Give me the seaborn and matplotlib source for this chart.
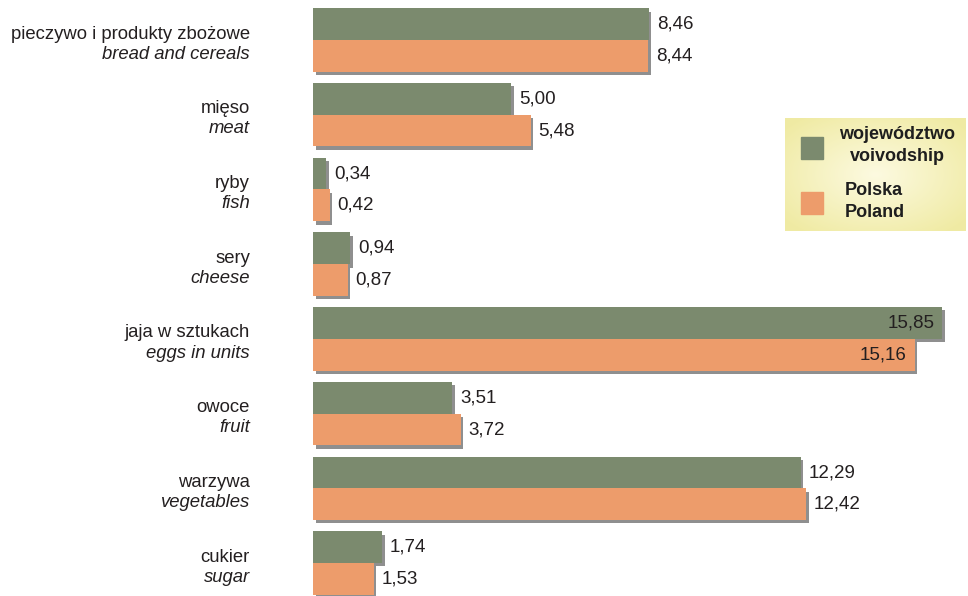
import matplotlib
matplotlib.use("Agg")
import matplotlib.pyplot as plt
import matplotlib.patheffects as pe
import matplotlib.transforms as mtransforms
import numpy as np
import pandas as pd
import seaborn as sns

# data
categories_pl = ["pieczywo i produkty zbożowe", "mięso", "ryby", "sery",
                 "jaja w sztukach", "owoce", "warzywa", "cukier"]
categories_en = ["bread and cereals", "meat", "fish", "cheese",
                 "eggs in units", "fruit", "vegetables", "sugar"]
voivodship = [8.46, 5.00, 0.34, 0.94, 15.85, 3.51, 12.29, 1.74]
poland = [8.44, 5.48, 0.42, 0.87, 15.16, 3.72, 12.42, 1.53]
series = ["województwo\nvoivodship", "Polska\nPoland"]

green = "#7b8a6e"
orange = "#ed9c6b"

df = pd.DataFrame({
    "cat": categories_pl * 2,
    "value": voivodship + poland,
    "series": [series[0]] * 8 + [series[1]] * 8,
})

sns.set_style("white")
plt.rcParams["font.family"] = ["Liberation Sans", "DejaVu Sans"]

W, H = 968, 596
fig = plt.figure(figsize=(W / 100, H / 100), dpi=100)
ax = fig.add_axes([313 / W, 0, (W - 313) / W, 1])

sns.barplot(data=df, y="cat", x="value", hue="series", orient="h",
            palette=[green, orange], width=0.85, saturation=1,
            legend=False, ax=ax, order=categories_pl, hue_order=series)

shadow = [pe.SimplePatchShadow(offset=(1.8, -2.4), shadow_rgbFace="#8f8f8f", alpha=1),
          pe.Normal()]
for p in ax.patches:
    p.set_linewidth(0)
    p.set_path_effects(shadow)

ax.set_xlim(0, 16.5)
ax.set_ylim(7.44, -0.535)
ax.set_xlabel("")
ax.set_ylabel("")
ax.set_xticks([])
ax.set_yticks([])
for s in ax.spines.values():
    s.set_visible(False)

txt_col = "#231f20"

# value labels
for cont in ax.containers:
    for p in cont.patches:
        v = p.get_width()
        yc = p.get_y() + p.get_height() / 2
        txt = f"{v:.2f}".replace(".", ",")
        if v > 14:
            ax.text(v - 0.2, yc, txt, ha="right", va="center", fontsize=13.5, color=txt_col)
        else:
            ax.text(v + 0.2, yc, txt, ha="left", va="center", fontsize=13.5, color=txt_col)

# category labels
trans = mtransforms.blended_transform_factory(fig.transFigure, ax.transData)
for i, (pl, en) in enumerate(zip(categories_pl, categories_en)):
    fig.text(250 / W, i - 0.08, pl, transform=trans, ha="right", va="center",
             fontsize=13.3, color=txt_col)
    fig.text(250 / W, i + 0.19, en, transform=trans, ha="right", va="center",
             fontsize=13.3, style="italic", color=txt_col)

# legend box with soft yellow gradient
lax = fig.add_axes([785 / W, 1 - 231 / H, 180 / W, 113 / H])
yy, xx = np.mgrid[-1:1:120j, -1:1:180j]
r = np.clip(np.sqrt(xx ** 2 + yy ** 2) / 1.3, 0, 1)
c_in = np.array([0.99, 0.98, 0.88])
c_out = np.array([0.94, 0.92, 0.64])
img = c_in[None, None, :] * (1 - r[..., None]) + c_out[None, None, :] * r[..., None]
lax.imshow(img, extent=(0, 180, 0, 113), aspect="auto")
lax.set_xlim(0, 180)
lax.set_ylim(113, 0)
lax.axis("off")
lax.add_patch(plt.Rectangle((16, 19), 22, 22, color=green))
lax.add_patch(plt.Rectangle((16, 74), 22, 22, color=orange))
lax.text(112, 16, "województwo", ha="center", va="center", fontsize=13, weight="bold", color="#1e1e1e")
lax.text(112, 38, "voivodship", ha="center", va="center", fontsize=13, weight="bold", color="#1e1e1e")
lax.text(60, 72, "Polska", ha="left", va="center", fontsize=13, weight="bold", color="#1e1e1e")
lax.text(60, 94, "Poland", ha="left", va="center", fontsize=13, weight="bold", color="#1e1e1e")

fig.savefig("out.png", dpi=100)
